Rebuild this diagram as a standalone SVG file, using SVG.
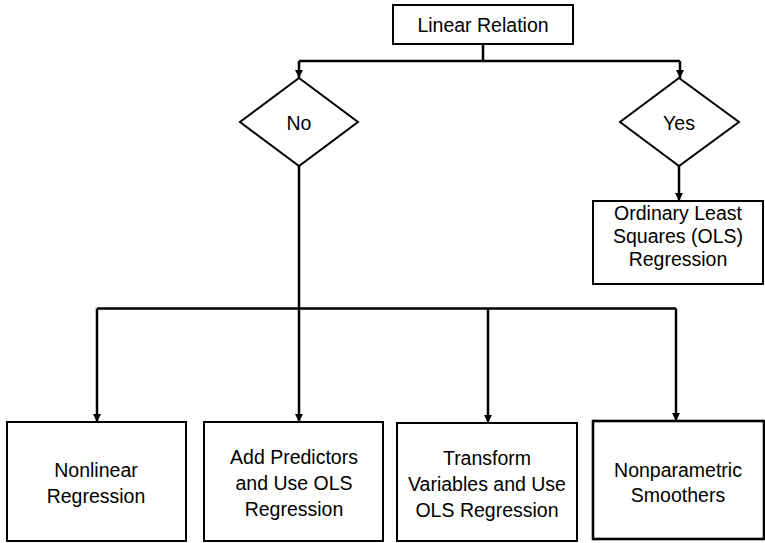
<svg xmlns="http://www.w3.org/2000/svg" width="765" height="543" viewBox="0 0 765 543">
<defs>
<marker id="arr" viewBox="0 0 10 10" refX="10" refY="5" markerWidth="8" markerHeight="8" markerUnits="userSpaceOnUse" orient="auto">
<path d="M0,0 L10,5 L0,10 Z" fill="#000"/>
</marker>
</defs>
<style>
.box{fill:#fff;stroke:#000;stroke-width:2}
.thick{stroke-width:2.6}
.lbl{font-family:"Liberation Sans",Arial,sans-serif;font-size:19.5px;fill:#000;text-anchor:middle;dominant-baseline:central}
.con{fill:none;stroke:#000;stroke-width:2.5}
</style>
<rect width="765" height="543" fill="#fff"/>
<g id="connectors">
<path class="con" d="M483,44 V61"/>
<path class="con" d="M299,61 H680"/>
<path class="con" d="M299,61 V78" marker-end="url(#arr)"/>
<path class="con" d="M680,61 V78" marker-end="url(#arr)"/>
<path class="con" d="M679,166 V201" marker-end="url(#arr)"/>
<path class="con" d="M299,166 V308"/>
<path class="con" d="M97,308.5 H676"/>
<path class="con" d="M97,308.5 V422" marker-end="url(#arr)"/>
<path class="con" d="M299,308.5 V422" marker-end="url(#arr)"/>
<path class="con" d="M488,308.5 V423" marker-end="url(#arr)"/>
<path class="con" d="M676,308.5 V421" marker-end="url(#arr)"/>
</g>
<g id="linear-relation">
<rect class="box" x="393" y="5" width="180" height="39"/>
<text class="lbl" x="483" y="25">Linear Relation</text>
</g>
<g id="no">
<polygon class="box" points="299,78 358,122 299,166 240,122"/>
<text class="lbl" x="299" y="123">No</text>
</g>
<g id="yes">
<polygon class="box" points="679,78 739,122 679,166 620,122"/>
<text class="lbl" x="679" y="123">Yes</text>
</g>
<g id="ols">
<rect class="box" x="593" y="201" width="170" height="83"/>
<text class="lbl" x="678" y="213">Ordinary Least</text>
<text class="lbl" x="678" y="236">Squares (OLS)</text>
<text class="lbl" x="678" y="259">Regression</text>
</g>
<g id="nonlinear">
<rect class="box" x="7" y="422" width="179" height="119"/>
<text class="lbl" x="96" y="470">Nonlinear</text>
<text class="lbl" x="96" y="496">Regression</text>
</g>
<g id="add-predictors">
<rect class="box" x="204" y="422" width="179" height="119"/>
<text class="lbl" x="294" y="457">Add Predictors</text>
<text class="lbl" x="294" y="483">and Use OLS</text>
<text class="lbl" x="294" y="509">Regression</text>
</g>
<g id="transform">
<rect class="box" x="397" y="423" width="180" height="118"/>
<text class="lbl" x="487" y="458">Transform</text>
<text class="lbl" x="487" y="484">Variables and Use</text>
<text class="lbl" x="487" y="510">OLS Regression</text>
</g>
<g id="nonparametric">
<rect class="box thick" x="593" y="421" width="171" height="118"/>
<text class="lbl" x="678" y="470">Nonparametric</text>
<text class="lbl" x="678" y="495">Smoothers</text>
</g>
</svg>
